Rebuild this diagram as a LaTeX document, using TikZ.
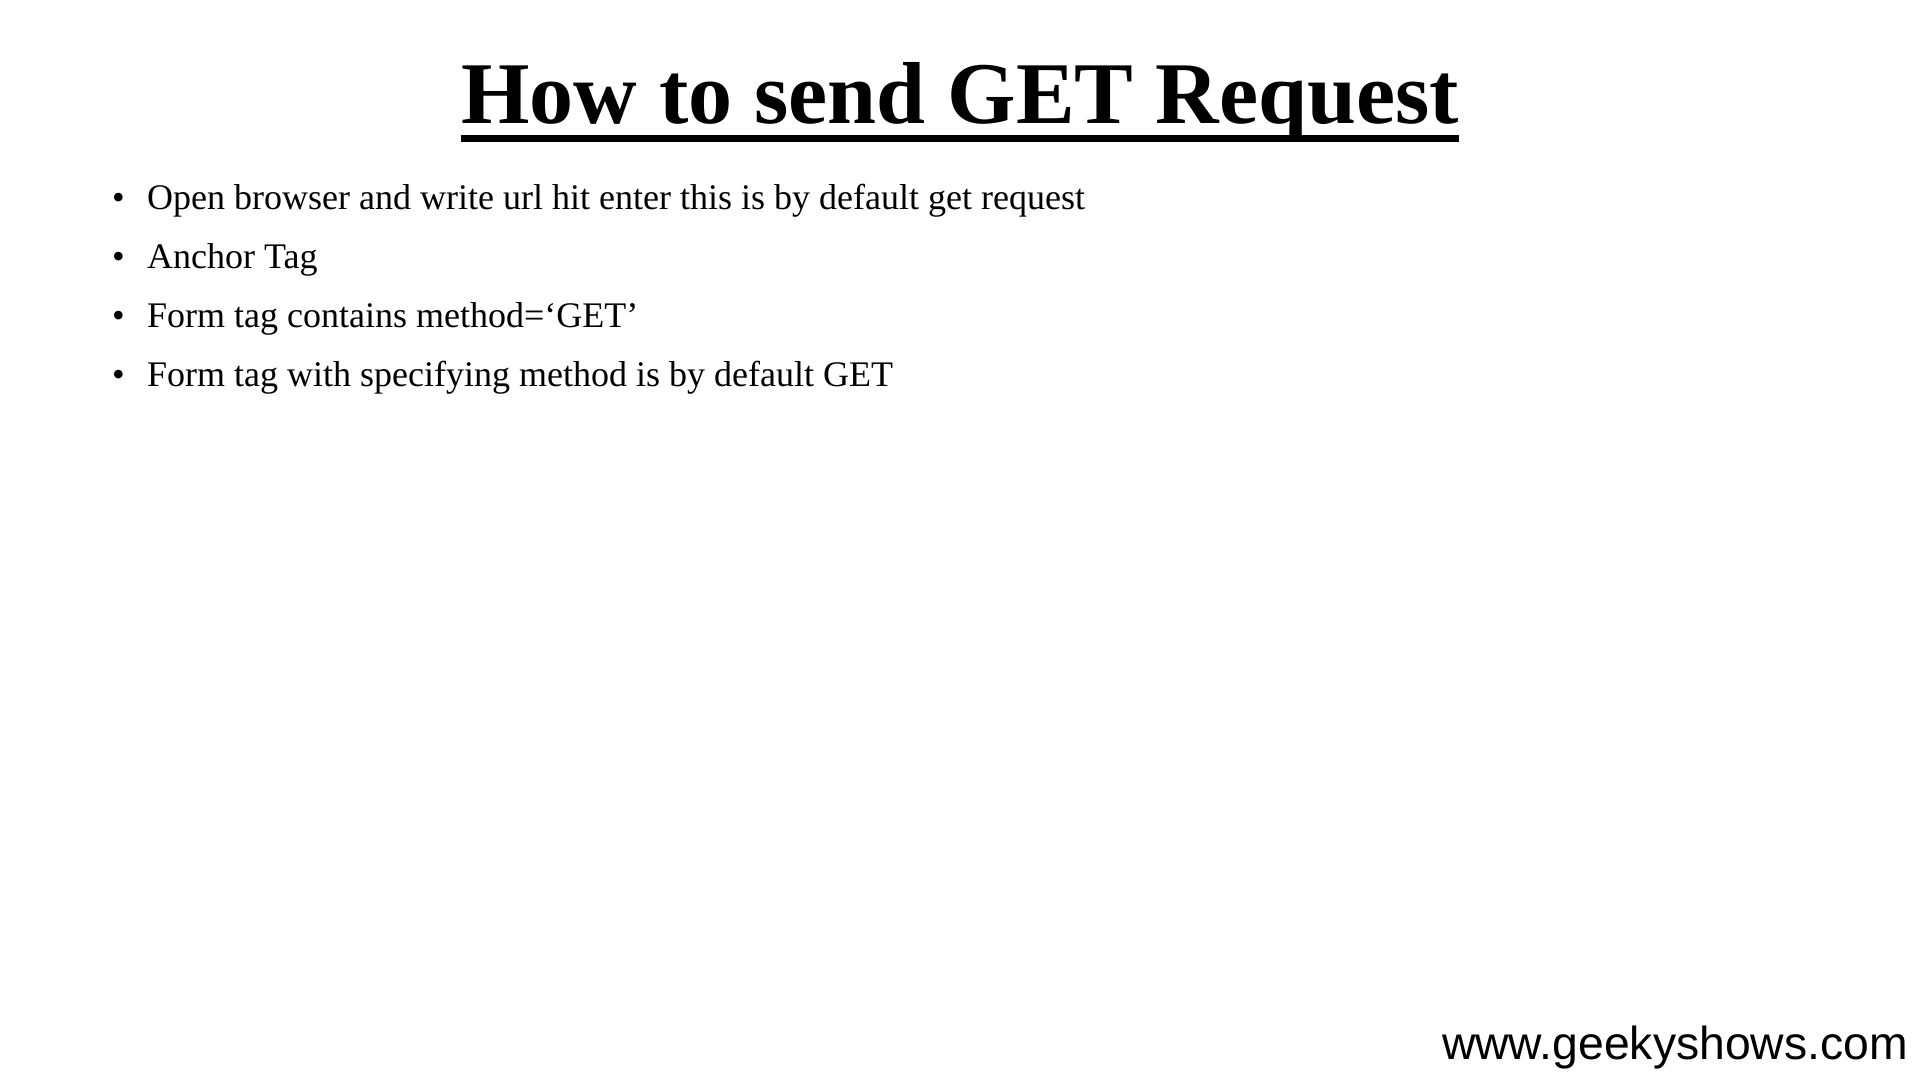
\documentclass[tikz,border=0pt]{standalone}
\usepackage{fontspec}
\setmainfont{Liberation Serif}
\newfontfamily\urlfont{Liberation Sans}
\usetikzlibrary{positioning}

\begin{document}
\begin{tikzpicture}[
x=1pt, y=-1pt,
titlenode/.style={inner sep=0pt, anchor=base, font=\fontsize{88}{100}\selectfont\bfseries},
itemnode/.style={inner sep=0pt, anchor=base west, font=\fontsize{36}{43}\selectfont},
urlnode/.style={inner sep=0pt, anchor=base east, font=\urlfont\fontsize{46.3}{54}\selectfont},
]
\fill[white] (0,0) rectangle (1920,1080);
\useasboundingbox (0,0) rectangle (1920,1080);

%Nodes
\node[titlenode] (title) at (960,123) {How to send GET Request};
\node[itemnode] (b1) at (112,209) {\makebox[35pt][l]{\textbullet}Open browser and write url hit enter this is by default get request};
\node[itemnode] (b2) [below=59pt of b1.base west, anchor=base west] {\makebox[35pt][l]{\textbullet}Anchor Tag};
\node[itemnode] (b3) [below=59pt of b2.base west, anchor=base west] {\makebox[35pt][l]{\textbullet}Form tag contains method=‘GET’};
\node[itemnode] (b4) [below=59pt of b3.base west, anchor=base west] {\makebox[35pt][l]{\textbullet}Form tag with specifying method is by default GET};
\node[urlnode] (url) at (1908,1059) {www.geekyshows.com};

%Lines
\draw[line width=7pt] ([yshift=-15pt]title.base west) -- ([yshift=-15pt]title.base east);
\end{tikzpicture}
\end{document}
